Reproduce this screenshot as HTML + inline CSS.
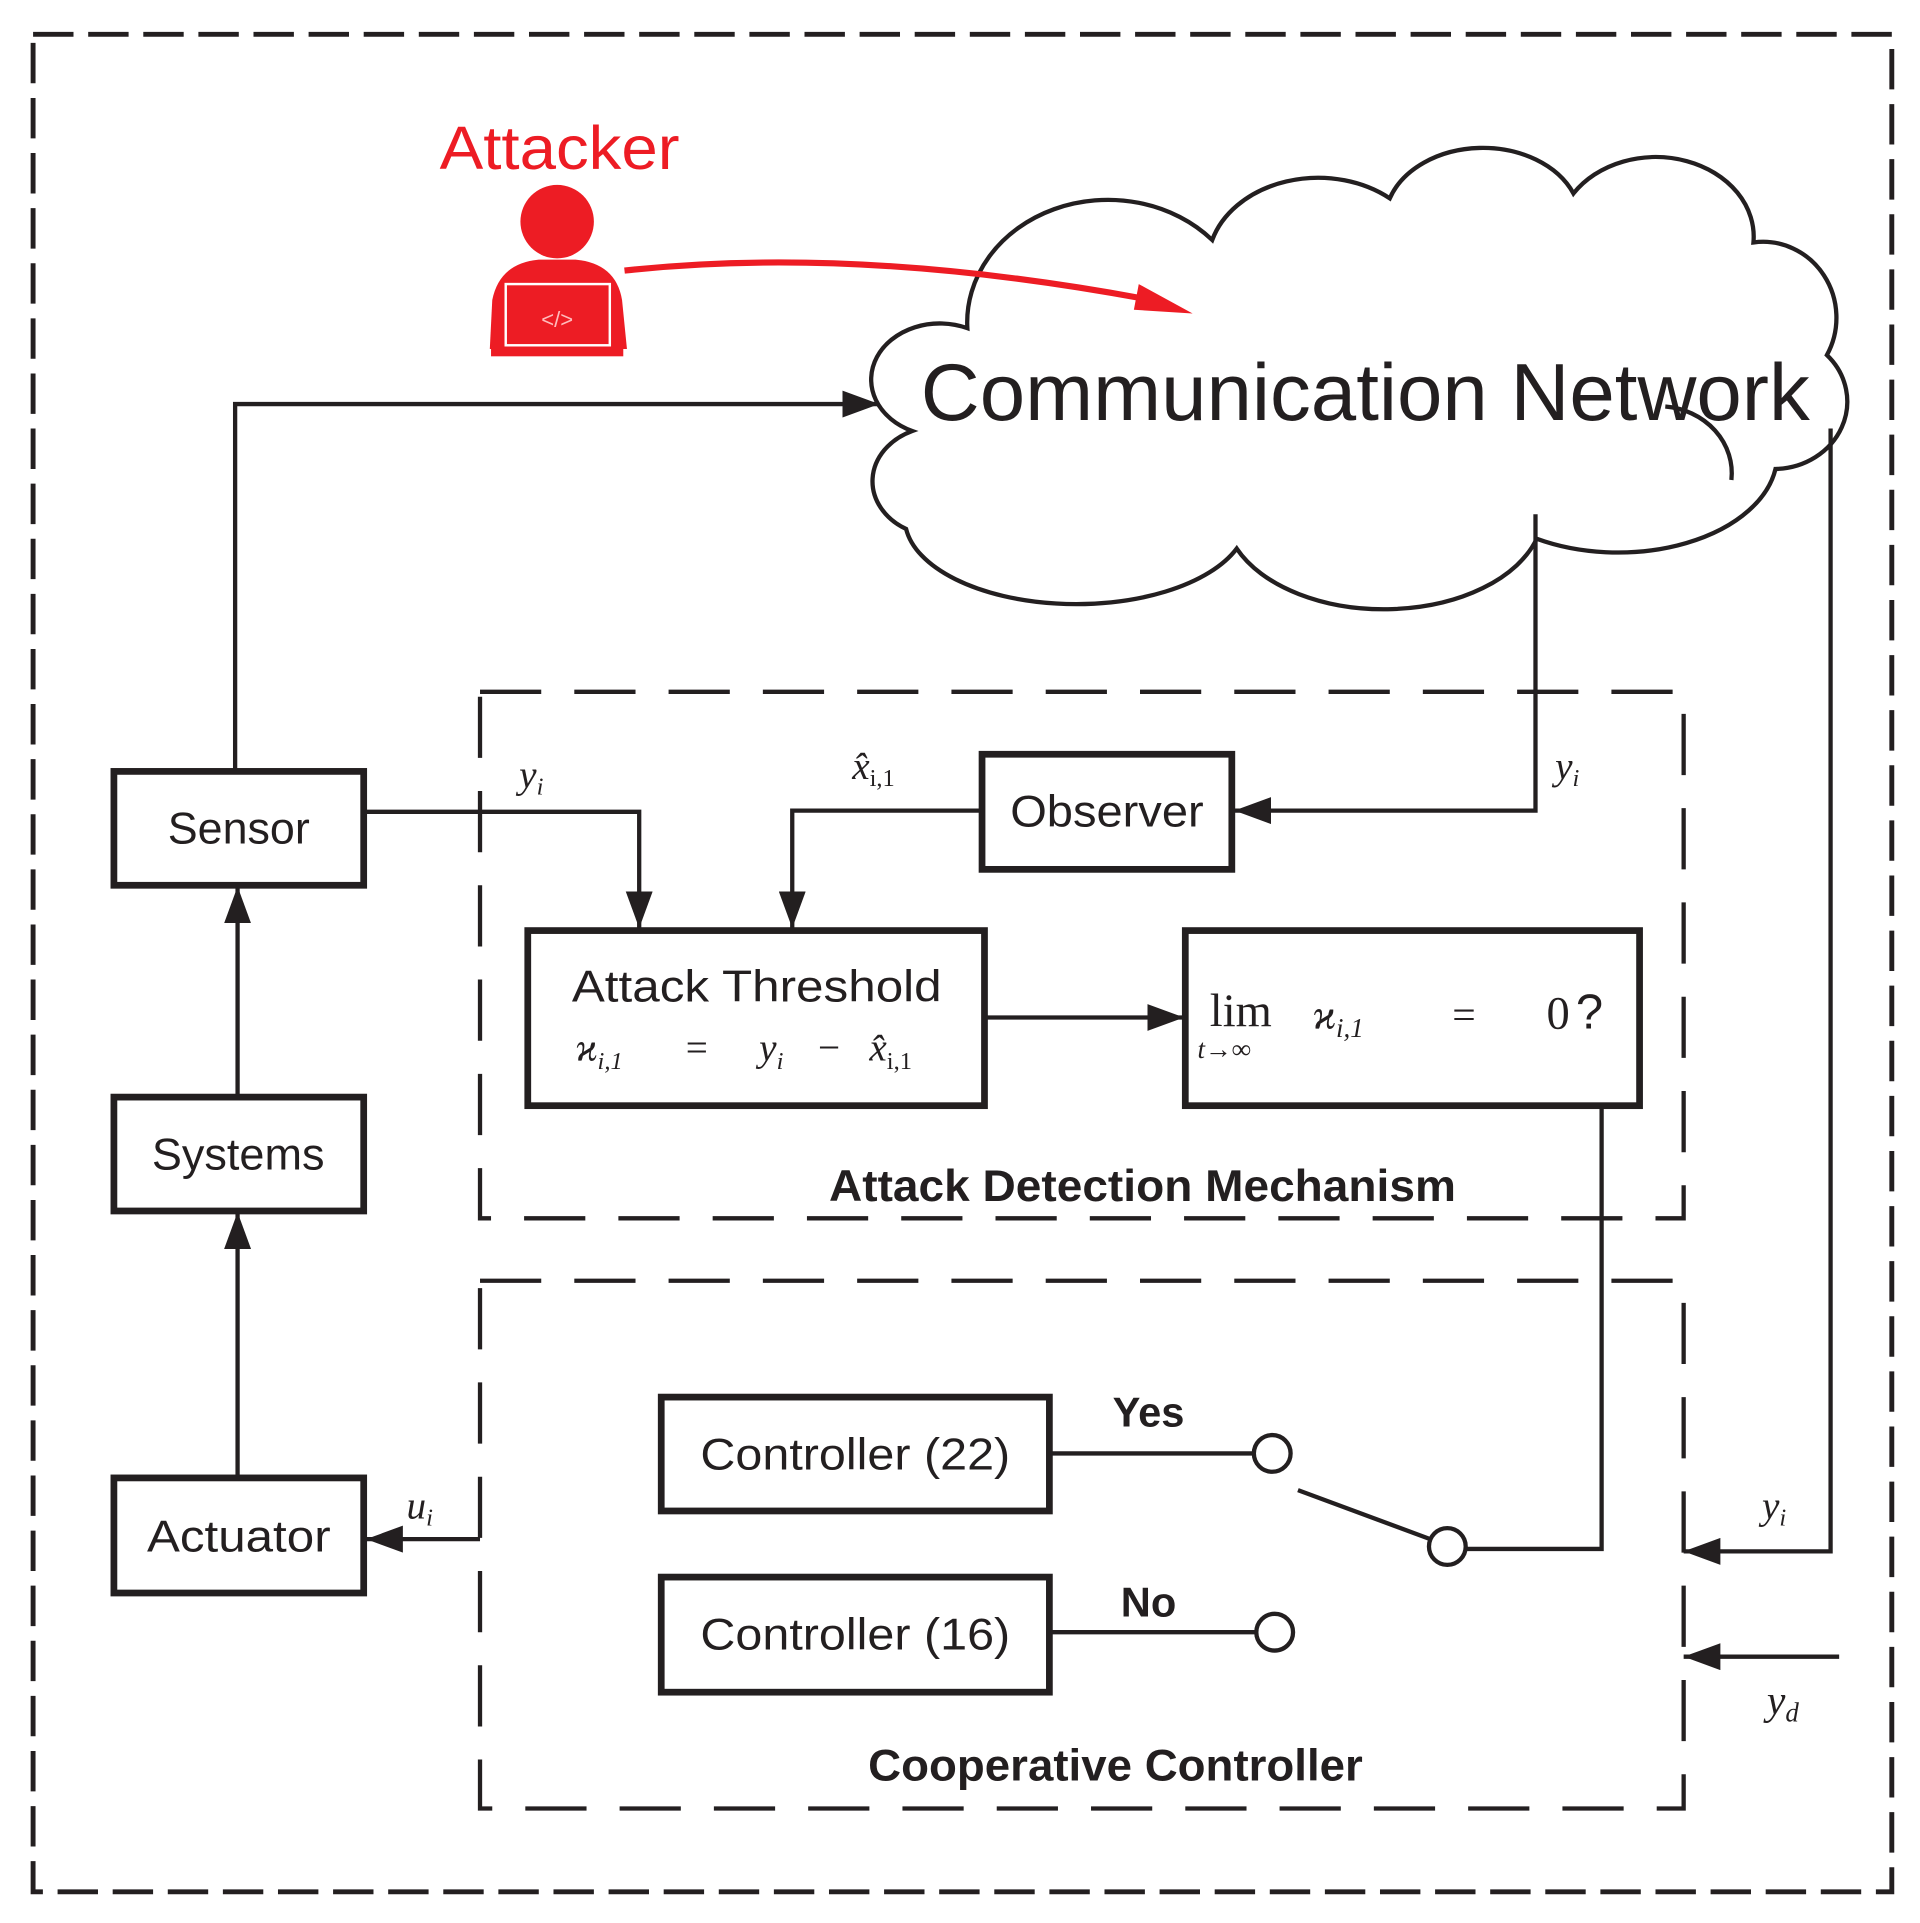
<!DOCTYPE html>
<html><head><meta charset="utf-8"><style>
html,body{margin:0;padding:0;background:#fff;}
svg{display:block;}
.s{font-family:"Liberation Sans",sans-serif;}
.m{font-family:"Liberation Serif",serif;font-style:italic;}
</style></head><body>
<svg width="1920" height="1923" viewBox="0 0 1568 1570.5" xmlns="http://www.w3.org/2000/svg">
<defs>
<marker id="ar" markerWidth="30" markerHeight="22" refX="30" refY="11" orient="auto" markerUnits="userSpaceOnUse" viewBox="0 0 30 22">
<path d="M0,0 L30,11 L0,22 Z" fill="#231f20"/></marker>
</defs>
<g fill="none" stroke="#231f20">
<rect x="27" y="28" width="1518" height="1517" stroke-width="4" stroke-dasharray="33,12"/>
<rect x="392" y="565" width="983" height="430" stroke-width="3.5" stroke-dasharray="50,27"/>
<rect x="392" y="1046" width="983" height="431" stroke-width="3.5" stroke-dasharray="50,27"/>
<g stroke-width="5.5">
<rect x="93" y="630" width="204" height="93"/>
<rect x="93" y="896" width="204" height="93"/>
<rect x="93" y="1207" width="204" height="94"/>
<rect x="802" y="616" width="204" height="94"/>
<rect x="431" y="760" width="373" height="143"/>
<rect x="968" y="760" width="371" height="143"/>
<rect x="540" y="1141" width="317" height="93"/>
<rect x="540" y="1288" width="317" height="94"/>
</g>
<path d="M745,352 A55,45 0 0 1 790,268 A115,100 0 0 1 990,196 A90,70 0 0 1 1135,162 A80,60 0 0 1 1285,158 A80,65 0 0 1 1432,198 A60,62 0 0 1 1492,290 A60,55 0 0 1 1450,383 A130,80 0 0 1 1255,440 A130,80 0 0 1 1010,448 A140,70 0 0 1 740,432 A55,45 0 0 1 745,352 Z" stroke-width="3.5" fill="#fff"/>
<path d="M1360,332 A60,55 0 0 1 1414,392" stroke-width="3.5"/>
<g stroke-width="3.5">
<path d="M192,629 V330 H718" marker-end="url(#ar)"/>
<path d="M298,663 H522 V758" marker-end="url(#ar)"/>
<path d="M801,662 H647 V758" marker-end="url(#ar)"/>
<path d="M1254,420 V662 H1008" marker-end="url(#ar)"/>
<path d="M805,831 H967" marker-end="url(#ar)"/>
<path d="M1308,905 V1265 H1197"/>
<path d="M1060,1217 L1168,1257"/>
<path d="M858,1187 H1024"/>
<path d="M858,1333 H1026"/>
<path d="M1495,350 V1267 H1375" marker-end="url(#ar)"/>
<path d="M1502,1353 H1375" marker-end="url(#ar)"/>
<path d="M392,1257 H299" marker-end="url(#ar)"/>
<path d="M194,895 V724" marker-end="url(#ar)"/>
<path d="M194,1206 V990" marker-end="url(#ar)"/>
<circle cx="1039" cy="1187" r="15" fill="#fff"/>
<circle cx="1182" cy="1263" r="15" fill="#fff"/>
<circle cx="1041" cy="1333" r="15" fill="#fff"/>
</g>
</g>
<!-- attacker -->
<text x="359" y="138" class="s" font-size="50" fill="#ed1c24" textLength="196" lengthAdjust="spacingAndGlyphs">Attacker</text>
<circle cx="455" cy="181" r="30" fill="#ed1c24"/>
<path d="M400,285 L402,245 Q408,215 440,212 L470,212 Q503,215 508,245 L512,285 Z" fill="#ed1c24"/>
<rect x="413" y="232" width="85" height="50" fill="none" stroke="#fff" stroke-width="2"/>
<rect x="401" y="283" width="108" height="8" fill="#ed1c24"/>
<text x="455" y="267" class="s" font-size="18" fill="#fbb" text-anchor="middle">&lt;/&gt;</text>
<path d="M510,221 Q700,200 940,245" fill="none" stroke="#ed1c24" stroke-width="5"/>
<path d="M930,232 L974,256 L926,253 Z" fill="#ed1c24"/>
<!-- labels -->
<g class="s" fill="#231f20">
<text x="752" y="343" font-size="66" textLength="726" lengthAdjust="spacingAndGlyphs">Communication Network</text>
<text x="137" y="689" font-size="36" textLength="116" lengthAdjust="spacingAndGlyphs">Sensor</text>
<text x="124" y="955" font-size="36" textLength="141" lengthAdjust="spacingAndGlyphs">Systems</text>
<text x="120" y="1267" font-size="36" textLength="150" lengthAdjust="spacingAndGlyphs">Actuator</text>
<text x="825" y="675" font-size="36" textLength="158" lengthAdjust="spacingAndGlyphs">Observer</text>
<text x="467" y="818" font-size="36" textLength="302" lengthAdjust="spacingAndGlyphs">Attack  Threshold</text>
<text x="572" y="1200" font-size="36" textLength="253" lengthAdjust="spacingAndGlyphs">Controller (22)</text>
<text x="572" y="1347" font-size="36" textLength="253" lengthAdjust="spacingAndGlyphs">Controller (16)</text>
<text x="938" y="1165" font-size="34" font-weight="bold" text-anchor="middle">Yes</text>
<text x="938" y="1320" font-size="34" font-weight="bold" text-anchor="middle">No</text>
<text x="677" y="981" font-size="36" font-weight="bold" textLength="512" lengthAdjust="spacingAndGlyphs">Attack Detection Mechanism</text>
<text x="709" y="1454" font-size="36" font-weight="bold" textLength="404" lengthAdjust="spacingAndGlyphs">Cooperative Controller</text>
<text x="1287" y="840" font-size="40">?</text>
</g>
<g class="m" fill="#231f20">
<text x="424" y="643" font-size="32">y<tspan font-size="20" dy="6">i</tspan></text>
<text x="696" y="636" font-size="32">x̂<tspan font-size="20" dy="6" font-style="normal">i,1</tspan></text>
<text x="1270" y="636" font-size="32">y<tspan font-size="20" dy="6">i</tspan></text>
<text x="332" y="1240" font-size="32">u<tspan font-size="20" dy="6">i</tspan></text>
<text x="1439" y="1240" font-size="32">y<tspan font-size="20" dy="6">i</tspan></text>
<text x="1443" y="1400" font-size="34">y<tspan font-size="22" dy="6">d</tspan></text>
<text x="470" y="866" font-size="32">ϰ<tspan font-size="20" dy="7">i,1</tspan></text>
<text x="560" y="866" font-size="32" font-style="normal">=</text>
<text x="620" y="866" font-size="32">y<tspan font-size="20" dy="7">i</tspan></text>
<text x="668" y="866" font-size="32" font-style="normal">−</text>
<text x="710" y="866" font-size="32">x̂<tspan font-size="20" dy="7" font-style="normal">i,1</tspan></text>
<text x="988" y="838" font-size="38" font-style="normal">lim</text>
<text x="978" y="864" font-size="22">t→∞</text>
<text x="1072" y="840" font-size="34">ϰ<tspan font-size="22" dy="7">i,1</tspan></text>
<text x="1186" y="840" font-size="34" font-style="normal">=</text>
<text x="1263" y="840" font-size="38" font-style="normal">0</text>
</g>
</svg>
</body></html>
